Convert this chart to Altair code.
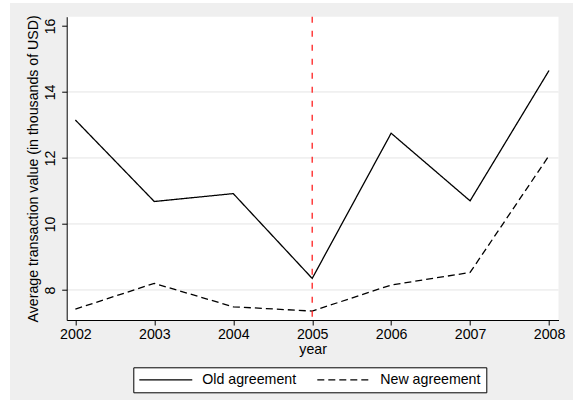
import altair as alt
import pandas as pd

years = [2002, 2003, 2004, 2005, 2006, 2007, 2008]
old_agreement = [13.15, 10.68, 10.92, 8.35, 12.75, 10.70, 14.65]
new_agreement = [7.42, 8.20, 7.49, 7.36, 8.15, 8.53, 12.07]
series_names = ["Old agreement", "New agreement"]
y_ticks = [8, 10, 12, 14, 16]
grid_values = [8, 10, 12, 14]
cutoff_year = [2005]

rows = []
for name, vals in zip(series_names, [old_agreement, new_agreement]):
    for yr, v in zip(years, vals):
        rows.append({"year": yr, "value": v, "series": name})
df = pd.DataFrame(rows)

W, H = 491.8, 303.3
PL, PT = 66.7, 16.7
FONT = "Liberation Sans"
FS = 14.2

x_scale = alt.Scale(domain=[2001.89, 2008.12], nice=False, zero=False)
y_scale = alt.Scale(domain=[7.09, 16.28], nice=False, zero=False)

x_axis = alt.Axis(values=years, format="d", title="year", labelPadding=2,
                  titlePadding=1.5, grid=False, zindex=1)
y_axis = alt.Axis(values=y_ticks, grid=False, zindex=1,
                  title="Average transaction value (in thousands of USD)",
                  labelAngle=270, labelAlign="center", labelBaseline="bottom",
                  labelPadding=4, titlePadding=3)

outer = alt.Chart(alt.Data(values=[{}])).mark_rect(color="#efefef").encode(
    x=alt.value(10 - PL), x2=alt.value(573 - PL),
    y=alt.value(3 - PT), y2=alt.value(400 - PT),
)
inner = alt.Chart(alt.Data(values=[{}])).mark_rect(color="white").encode(
    x=alt.value(0), x2=alt.value(W), y=alt.value(0), y2=alt.value(H),
)

grid = alt.Chart(pd.DataFrame({"value": grid_values})).mark_rule(
    color="#e4e4e4", strokeWidth=1
).encode(y=alt.Y("value:Q", scale=y_scale, axis=y_axis))

sym = 169
lines = alt.Chart(df).mark_line(color="black", strokeWidth=1.3).encode(
    x=alt.X("year:Q", scale=x_scale, axis=x_axis),
    y=alt.Y("value:Q", scale=y_scale, axis=y_axis),
    strokeDash=alt.StrokeDash(
        "series:N",
        scale=alt.Scale(domain=series_names, range=[[1, 0], [7, 4]]),
        legend=alt.Legend(
            title=None, orient="none", direction="horizontal",
            legendX=133.3 - PL, legendY=367.3 - PT,
            symbolType="M-1,0H7.15", symbolSize=sym, symbolStrokeWidth=1.3,
            symbolStrokeColor="black", symbolFillColor="transparent",
            labelOffset=49, columnPadding=18,
            strokeColor="black", fillColor="white", padding=5,
            labelFont=FONT, labelFontSize=FS, labelColor="black",
        ),
    ),
    order="year:Q",
)

cutoff = alt.Chart(pd.DataFrame({"year": cutoff_year})).mark_rule(
    color="#ff2020", strokeWidth=1.3, strokeDash=[6, 8]
).encode(x=alt.X("year:Q", scale=x_scale, axis=x_axis))

chart = alt.layer(outer, inner, grid, lines, cutoff).properties(
    width=W, height=H,
    autosize=alt.AutoSizeParams(type="none"),
    padding={"left": PL, "top": PT, "right": 575 - PL - W, "bottom": 411 - PT - H},
    background="white",
).configure_view(stroke=None).configure_axis(
    domainColor="black", domainWidth=1, tickColor="black", tickSize=5,
    labelFont=FONT, labelFontSize=FS, labelColor="black",
    titleFont=FONT, titleFontSize=FS, titleColor="black", titleFontWeight="normal",
)

chart.save("out.html", embed_options={"renderer": "svg", "actions": False})
